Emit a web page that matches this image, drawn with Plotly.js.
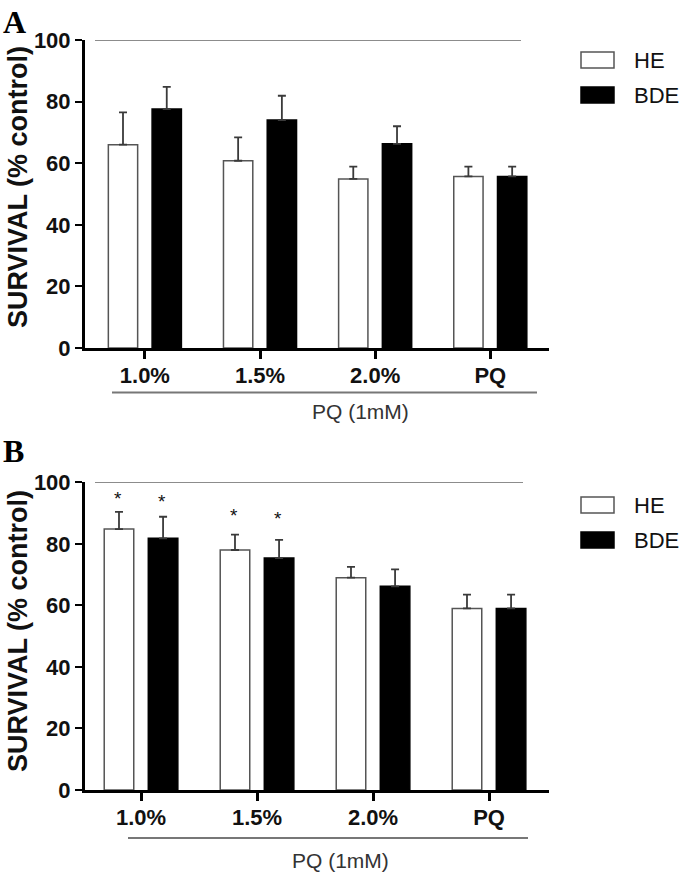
<!DOCTYPE html>
<html>
<head>
<meta charset="utf-8">
<script src="https://cdn.plot.ly/plotly-3.0.1.min.js"></script>
<style>
  html, body { margin: 0; padding: 0; background: #fff; }
  #chart { width: 685px; height: 874px; }
</style>
</head>
<body>
<div id="chart"></div>
<script>
// ---- data ----
var categories = ['1.0%', '1.5%', '2.0%', 'PQ'];
var seriesNames = ['HE', 'BDE'];
var groupLabel = 'PQ (1mM)';
var controlLevel = 100;

// panel A
var heA = [66.0, 60.8, 54.9, 55.7];
var heErrA = [10.5, 7.6, 4.0, 3.2];
var bdeA = [77.6, 74.0, 66.3, 55.7];
var bdeErrA = [7.2, 7.9, 5.7, 3.2];

// panel B
var heB = [84.8, 78.0, 69.0, 59.0];
var heErrB = [5.6, 5.0, 3.5, 4.5];
var bdeB = [81.8, 75.4, 66.2, 59.0];
var bdeErrB = [7.0, 5.9, 5.5, 4.5];
// asterisk heights (null = no star)
var starHeB = [95.9, 90.4, null, null];
var starBdeB = [95.0, 89.6, null, null];

// ---- helpers ----
var W = 685, H = 874;
function px(x) { return x / W; }
function py(y) { return 1 - y / H; }

var FONT = 'Arial, "Liberation Sans", sans-serif';

function barTrace(name, vals, errs, xa, ya, filled) {
  return {
    type: 'bar',
    name: name,
    x: categories,
    y: vals,
    xaxis: xa,
    yaxis: ya,
    showlegend: false,
    marker: {
      color: filled ? '#000' : '#fff',
      line: { color: filled ? '#000' : '#555', width: 1.5 }
    },
    error_y: {
      type: 'data',
      symmetric: false,
      array: errs,
      arrayminus: errs.map(function () { return 0; }),
      color: '#3a3a3a',
      thickness: 1.8,
      width: 4
    }
  };
}

var traces = [
  barTrace(seriesNames[0], heA, heErrA, 'x', 'y', false),
  barTrace(seriesNames[1], bdeA, bdeErrA, 'x', 'y', true),
  barTrace(seriesNames[0], heB, heErrB, 'x2', 'y2', false),
  barTrace(seriesNames[1], bdeB, bdeErrB, 'x2', 'y2', true)
];

function xAxis(domain, range, anchor) {
  return {
    domain: domain,
    range: range,
    anchor: anchor,
    type: 'category',
    showline: true,
    linecolor: '#000',
    linewidth: 3,
    ticks: 'outside',
    ticklen: 8,
    tickwidth: 3,
    tickcolor: '#000',
    ticklabelstandoff: -2,
    showgrid: false,
    zeroline: false,
    fixedrange: true,
    tickfont: { family: FONT, size: 22, color: '#111', weight: 'bold' }
  };
}

function yAxis(domain, anchor) {
  return {
    domain: domain,
    range: [0, 100],
    anchor: anchor,
    tickvals: [0, 20, 40, 60, 80, 100],
    showline: true,
    linecolor: '#000',
    linewidth: 3,
    ticks: 'outside',
    ticklen: 7,
    tickwidth: 2,
    tickcolor: '#000',
    showgrid: false,
    zeroline: false,
    fixedrange: true,
    tickfont: { family: FONT, size: 22, color: '#111', weight: 'bold' }
  };
}

var shapes = [
  // 100% control lines
  { type: 'line', xref: 'paper', yref: 'y', x0: px(95), x1: px(521), y0: controlLevel, y1: controlLevel,
    line: { color: '#666', width: 1.5 } },
  { type: 'line', xref: 'paper', yref: 'y2', x0: px(95), x1: px(523), y0: controlLevel, y1: controlLevel,
    line: { color: '#666', width: 1.5 } },
  // group brackets under tick labels
  { type: 'line', xref: 'paper', yref: 'paper', x0: px(112), x1: px(537), y0: py(392.5), y1: py(392.5),
    line: { color: '#777', width: 2 } },
  { type: 'line', xref: 'paper', yref: 'paper', x0: px(128), x1: px(528), y0: py(838), y1: py(838),
    line: { color: '#777', width: 2 } }
];

var annotations = [];

function txt(text, x, y, size, opts) {
  var a = {
    xref: 'paper', yref: 'paper', x: x, y: y, text: text, showarrow: false,
    font: { family: FONT, size: size, color: '#111' },
    xanchor: 'center', yanchor: 'middle'
  };
  for (var k in opts) a[k] = opts[k];
  return a;
}

// panel letters
annotations.push(txt('<b>A</b>', px(1), py(2), 32,
  { xanchor: 'left', yanchor: 'top', font: { family: '"Liberation Serif", "Times New Roman", serif', size: 32, color: '#000' } }));
annotations.push(txt('<b>B</b>', px(1), py(431), 32,
  { xanchor: 'left', yanchor: 'top', font: { family: '"Liberation Serif", "Times New Roman", serif', size: 32, color: '#000' } }));

// y titles
annotations.push(txt('<b>SURVIVAL (% control)</b>', px(18), py(187), 27, { textangle: -90 }));
annotations.push(txt('<b>SURVIVAL (% control)</b>', px(18), py(631), 27, { textangle: -90 }));

// group label
annotations.push(txt(groupLabel, px(361), py(411), 21, { font: { family: FONT, size: 21, color: '#333' } }));
annotations.push(txt(groupLabel, px(340), py(860), 21, { font: { family: FONT, size: 21, color: '#333' } }));

// legends (drawn by hand so the swatches match the original size)
function legend(topY) {
  var rows = [topY, topY + 35];
  seriesNames.forEach(function (nm, i) {
    var filled = i === 1;
    shapes.push({
      type: 'rect', xref: 'paper', yref: 'paper',
      x0: px(581), x1: px(614), y0: py(rows[i]), y1: py(rows[i] + 16),
      fillcolor: filled ? '#000' : '#fff',
      line: { color: filled ? '#000' : '#555', width: 1.5 }
    });
    annotations.push(txt(nm, px(632), py(rows[i] + 8), 22,
      { xanchor: 'left', font: { family: FONT, size: 22, color: '#111' } }));
  });
}
legend(52);
legend(497);

// significance stars on panel B (bar slots are ~43 px apart)
function stars(levels, shift) {
  levels.forEach(function (v, i) {
    if (v === null) return;
    annotations.push({
      xref: 'x2', yref: 'y2', x: categories[i], y: v, text: '*', showarrow: false,
      xshift: shift, yshift: -4,
      font: { family: FONT, size: 19, color: '#111' },
      xanchor: 'center', yanchor: 'middle'
    });
  });
}
stars(starHeB, -23);
stars(starBdeB, 21);

var layout = {
  width: W,
  height: H,
  margin: { l: 0, r: 0, t: 0, b: 0 },
  paper_bgcolor: '#fff',
  plot_bgcolor: '#fff',
  barmode: 'group',
  bargap: 0.24,
  bargroupgap: 0.33,
  showlegend: false,
  font: { family: FONT, color: '#111' },
  xaxis: xAxis([px(85), px(549)], [-0.52, 3.51], 'y'),
  yaxis: yAxis([py(348), py(40)], 'x'),
  xaxis2: xAxis([px(85), px(549)], [-0.483, 3.517], 'y2'),
  yaxis2: yAxis([py(790), py(482.3)], 'x2'),
  shapes: shapes,
  annotations: annotations
};

Plotly.newPlot('chart', traces, layout, { displayModeBar: false, staticPlot: true });
</script>
</body>
</html>
